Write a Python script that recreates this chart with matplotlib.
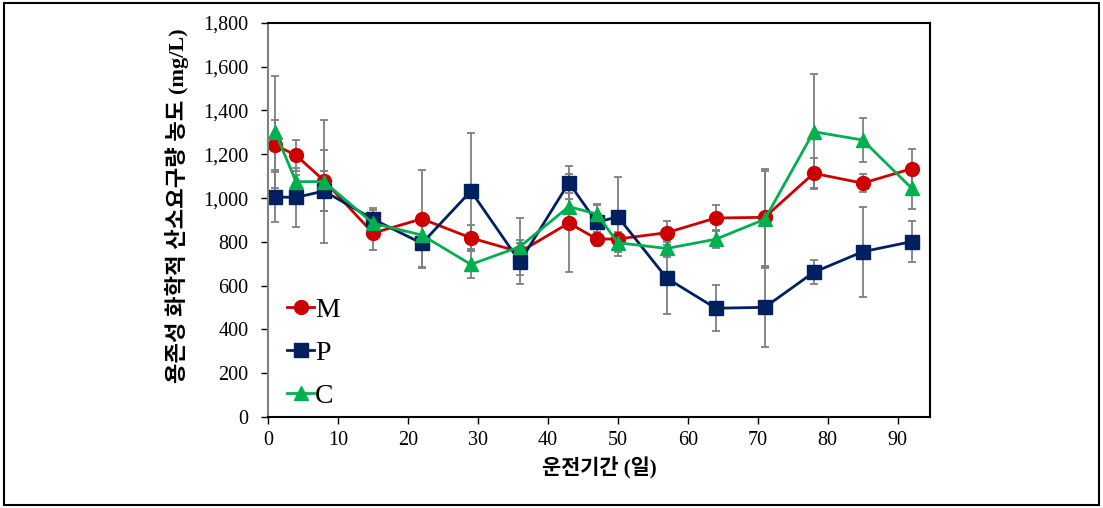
import matplotlib
matplotlib.use("Agg")
import matplotlib.pyplot as plt
from matplotlib.lines import Line2D
from matplotlib.patches import Rectangle

# ── data ──────────────────────────────────────────────────────────────────
days = [1, 4, 8, 15, 22, 29, 36, 43, 47, 50, 57, 64, 71, 78, 85, 92]

m_val = [1243, 1195, 1080, 840, 905, 818, 754, 886, 813, 813, 842, 909, 912, 1113, 1068, 1134]
m_err = [115, 72, 140, 75, 225, 60, 40, 225, 30, 30, 55, 60, 220, 68, 40, 92]

p_val = [1005, 1003, 1032, 904, 793, 1032, 709, 1070, 889, 915, 634, 497, 501, 661, 755, 801]
p_err = [115, 135, 90, 50, 110, 265, 100, 75, 80, 180, 165, 105, 180, 55, 205, 93]

c_val = [1303, 1075, 1075, 885, 831, 697, 778, 961, 927, 796, 770, 812, 903, 1303, 1265, 1045]
c_err = [255, 30, 280, 60, 60, 60, 130, 60, 45, 40, 40, 40, 220, 262, 100, 95]

series = [
    ("M", m_val, m_err, "#CC0000", "o", 10),
    ("P", p_val, p_err, "#002060", "s", 10),
    ("C", c_val, c_err, "#00B050", "^", 10),
]

x_ticks = list(range(0, 100, 10))
y_ticks = list(range(0, 2000, 200))
y_labels = [f"{v:,}" for v in y_ticks]

SERIF = ["Liberation Serif", "DejaVu Serif"]
MIXED = ["Liberation Serif", "Noto Sans CJK KR", "DejaVu Sans"]

fig = plt.figure(figsize=(11.03, 5.08), dpi=100)
ax = fig.add_axes([0.243, 0.179, 0.600, 0.776])

handles = []
for name, vals, errs, color, marker, ms in series:
    ax.errorbar(days, vals, yerr=errs, fmt="none", ecolor="#7f7f7f",
                elinewidth=1.3, capsize=3, capthick=1.3, zorder=1)
    ax.plot(days, vals, color=color, marker=marker, markersize=ms,
            linewidth=2, zorder=2)
    handles.append(Line2D([], [], color=color, marker=marker, markersize=ms,
                          linewidth=2, label=name))

ax.set_xlim(0, 94.6)
ax.set_ylim(0, 1800)
ax.set_xticks(x_ticks)
ax.set_yticks(y_ticks)
ax.set_yticklabels(y_labels)
for lab in ax.get_xticklabels() + ax.get_yticklabels():
    lab.set_family(SERIF)
    lab.set_fontsize(14.5)
ax.tick_params(direction="out", length=5, width=1, colors="black")
ax.tick_params(axis="y", pad=9)
ax.tick_params(axis="x", pad=5)

for side in ["top", "right", "bottom"]:
    ax.spines[side].set_color("black")
    ax.spines[side].set_linewidth(1.5)
ax.spines["left"].set_color("#808080")
ax.spines["left"].set_linewidth(1.5)

ax.set_xlabel("운전기간 (일)", family=MIXED, fontsize=15, fontweight="bold", labelpad=5)
ax.set_ylabel("용존성 화학적 산소요구량 농도 (mg/L)", family=MIXED, fontsize=16,
              fontweight="bold")
ax.yaxis.set_label_coords(-0.12, 0.535)

ax.legend(handles=handles, loc="lower left", bbox_to_anchor=(0.0, -0.028), frameon=False,
          prop={"family": SERIF, "size": 20}, handlelength=0.95,
          handletextpad=0.05, labelspacing=0.63, borderaxespad=0.3)

# outer frame around the whole picture
fig.patches.append(Rectangle((0.004, 0.006), 0.992, 0.988, transform=fig.transFigure,
                             fill=False, edgecolor="black", linewidth=1.5))

fig.savefig("out.png", dpi=100)
